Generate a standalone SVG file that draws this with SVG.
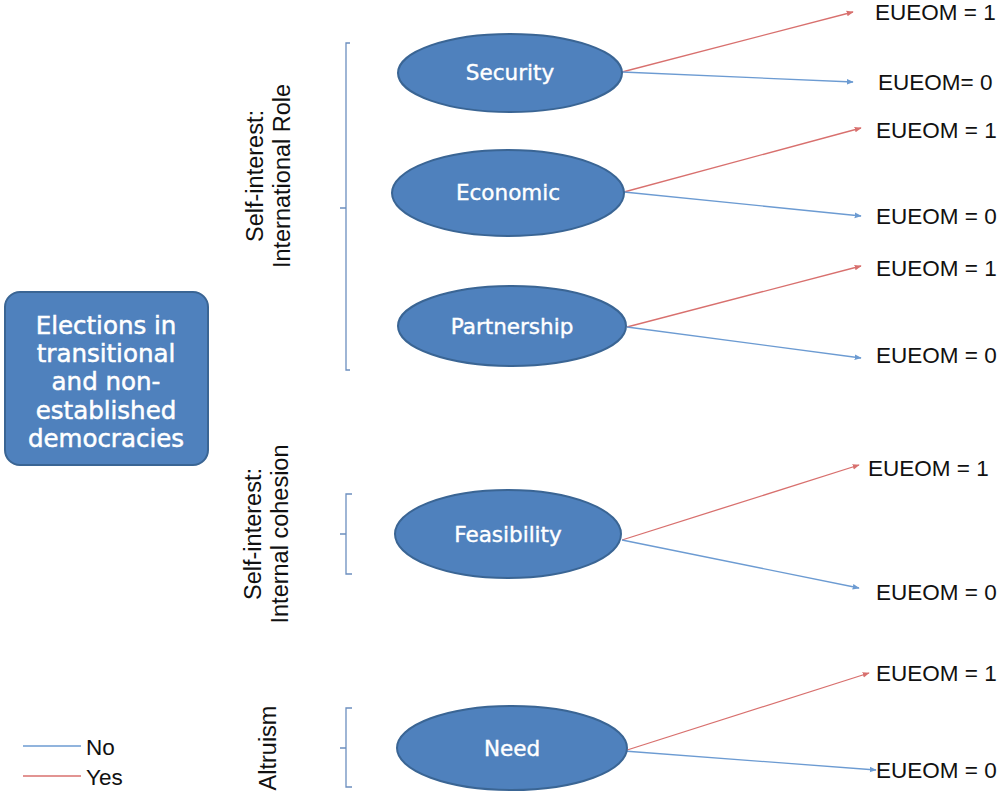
<svg xmlns="http://www.w3.org/2000/svg" width="1001" height="796" viewBox="0 0 1001 796">
  <defs>
    <marker id="arrRed" viewBox="0 0 10 10" refX="9" refY="5" markerWidth="7" markerHeight="7" orient="auto" markerUnits="userSpaceOnUse">
      <path d="M0,1 L10,5 L0,9 z" fill="#D8706E"/>
    </marker>
    <marker id="arrBlue" viewBox="0 0 10 10" refX="9" refY="5" markerWidth="7" markerHeight="7" orient="auto" markerUnits="userSpaceOnUse">
      <path d="M0,1 L10,5 L0,9 z" fill="#6C9BD2"/>
    </marker>
  </defs>
  <style>
    .node { fill: #4F81BD; stroke: #3A6594; stroke-width: 2; }
    .nlabel { font-family: "DejaVu Sans", sans-serif; font-size: 21.5px; fill: #FFFFFF; stroke: #FFFFFF; stroke-width: 0.4; text-anchor: middle; dominant-baseline: central; }
    .blabel { font-family: "DejaVu Sans", sans-serif; font-size: 24.5px; fill: #FFFFFF; stroke: #FFFFFF; stroke-width: 0.5; text-anchor: middle; }
    .out { font-family: "Liberation Sans", Arial, sans-serif; font-size: 22.5px; fill: #111111; dominant-baseline: central; }
    .cat { font-family: "Liberation Sans", Arial, sans-serif; font-size: 23.5px; fill: #111111; text-anchor: middle; }
    .yes { stroke: #D8706E; stroke-width: 1.3; fill: none; marker-end: url(#arrRed); }
    .no { stroke: #6C9BD2; stroke-width: 1.3; fill: none; marker-end: url(#arrBlue); }
    .brace { stroke: #6C8FBF; stroke-width: 1.3; fill: none; }
  </style>
  <rect width="1001" height="796" fill="#FFFFFF"/>

  <!-- root box -->
  <g id="root">
    <rect class="node" x="5" y="292" width="203" height="173" rx="15"/>
    <text class="blabel" x="106" y="334">Elections in</text>
    <text class="blabel" x="106" y="362">transitional</text>
    <text class="blabel" x="106" y="390">and non-</text>
    <text class="blabel" x="106" y="419">established</text>
    <text class="blabel" x="106" y="447">democracies</text>
  </g>

  <!-- category brackets and labels -->
  <g id="cat-international">
    <path class="brace" d="M350,43 H346 V370 H350 M346,208 H340"/>
    <text class="cat" transform="translate(263,176) rotate(-90)">Self-interest:</text>
    <text class="cat" transform="translate(290,176) rotate(-90)">International Role</text>
  </g>
  <g id="cat-internal">
    <path class="brace" d="M352,494 H346 V574 H352 M346,534 H340"/>
    <text class="cat" transform="translate(261,534) rotate(-90)">Self-interest:</text>
    <text class="cat" transform="translate(288,534) rotate(-90)">Internal cohesion</text>
  </g>
  <g id="cat-altruism">
    <path class="brace" d="M352,708 H346 V787 H352 M346,748 H340"/>
    <text class="cat" transform="translate(276,748) rotate(-90)">Altruism</text>
  </g>

  <!-- connectors -->
  <g id="connectors">
    <line class="yes" x1="622" y1="72" x2="853" y2="12"/>
    <line class="no" x1="622" y1="72" x2="853" y2="82"/>
    <line class="yes" x1="624" y1="192" x2="861" y2="128"/>
    <line class="no" x1="624" y1="192" x2="861" y2="216"/>
    <line class="yes" x1="627" y1="327" x2="861" y2="266"/>
    <line class="no" x1="627" y1="327" x2="861" y2="358"/>
    <line class="yes" x1="622" y1="540" x2="859" y2="465"/>
    <line class="no" x1="622" y1="540" x2="859" y2="588"/>
    <line class="yes" x1="624" y1="751" x2="869" y2="673"/>
    <line class="no" x1="624" y1="751" x2="876" y2="770"/>
  </g>

  <!-- factor nodes -->
  <g id="security">
    <ellipse class="node" cx="510" cy="73" rx="112" ry="39"/>
    <text class="nlabel" x="510" y="72">Security</text>
  </g>
  <g id="economic">
    <ellipse class="node" cx="508" cy="193" rx="116" ry="43"/>
    <text class="nlabel" x="508" y="192">Economic</text>
  </g>
  <g id="partnership">
    <ellipse class="node" cx="512" cy="326" rx="114" ry="40"/>
    <text class="nlabel" x="512" y="326">Partnership</text>
  </g>
  <g id="feasibility">
    <ellipse class="node" cx="508" cy="534" rx="113" ry="44"/>
    <text class="nlabel" x="508" y="534">Feasibility</text>
  </g>
  <g id="need">
    <ellipse class="node" cx="512" cy="748" rx="115" ry="42"/>
    <text class="nlabel" x="512" y="748">Need</text>
  </g>

  <!-- outcomes -->
  <g id="outcomes">
    <text class="out" x="875" y="12">EUEOM = 1</text>
    <text class="out" x="878" y="82">EUEOM= 0</text>
    <text class="out" x="876" y="130">EUEOM = 1</text>
    <text class="out" x="876" y="216">EUEOM = 0</text>
    <text class="out" x="876" y="268">EUEOM = 1</text>
    <text class="out" x="876" y="355">EUEOM = 0</text>
    <text class="out" x="868" y="468">EUEOM = 1</text>
    <text class="out" x="876" y="592">EUEOM = 0</text>
    <text class="out" x="876" y="673">EUEOM = 1</text>
    <text class="out" x="876" y="770">EUEOM = 0</text>
  </g>

  <!-- legend -->
  <g id="legend">
    <line x1="23" y1="746" x2="81" y2="746" stroke="#6C9BD2" stroke-width="1.3"/>
    <line x1="23" y1="776" x2="81" y2="776" stroke="#D8706E" stroke-width="1.3"/>
    <text class="out" x="86" y="747">No</text>
    <text class="out" x="86" y="777">Yes</text>
  </g>
</svg>
